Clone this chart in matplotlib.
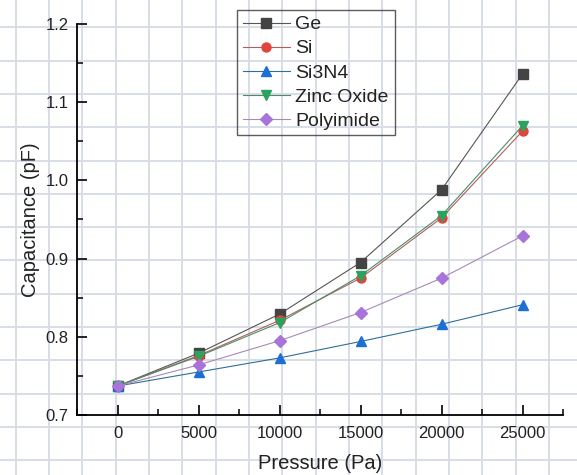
import numpy as np
import matplotlib
matplotlib.use("Agg")
import matplotlib.pyplot as plt
from matplotlib.ticker import MultipleLocator, FormatStrFormatter

plt.rcParams['font.family'] = ['Liberation Sans', 'DejaVu Sans']

pressure = [0, 5000, 10000, 15000, 20000, 25000]
ge = [0.737, 0.779, 0.829, 0.895, 0.988, 1.136]
si = [0.737, 0.776, 0.821, 0.875, 0.952, 1.063]
si3n4 = [0.737, 0.755, 0.773, 0.794, 0.816, 0.841]
zno = [0.737, 0.775, 0.818, 0.878, 0.955, 1.070]
polyimide = [0.737, 0.764, 0.795, 0.831, 0.875, 0.929]

labels = ["Ge", "Si", "Si3N4", "Zinc Oxide", "Polyimide"]
series = [ge, si, si3n4, zno, polyimide]
marker_colors = ["#444444", "#e0453b", "#1d6fd4", "#2ba35f", "#a874d9"]
line_colors = ["#555555", "#b0605a", "#2e6f9a", "#4e8a6a", "#a88ab8"]
markers = ["s", "o", "^", "v", "D"]
msizes = [6.5, 6.5, 7.5, 7.5, 6.5]

W, H = 577, 475
fig = plt.figure(figsize=(W / 100, H / 100), dpi=100)
fig.patch.set_facecolor("white")

# background graph-paper grid
bg = fig.add_axes([0, 0, 1, 1], zorder=-5)
bg.set_xlim(0, W)
bg.set_ylim(0, H)
bg.set_xticks(np.arange(15.6, W, 33.33))
bg.set_yticks(np.arange(14.8, H, 33.3))
bg.grid(True, color="#d6dbe4", linewidth=1.3)
bg.tick_params(length=0, labelbottom=False, labelleft=False)
for s in bg.spines.values():
    s.set_visible(False)
bg.set_facecolor("white")

ax = fig.add_axes([77 / W, 1 - 415 / H, (563 - 77) / W, (415 - 24) / H], zorder=1)
ax.set_facecolor("none")

for y, lab, mc, lc, mk, ms in zip(series, labels, marker_colors, line_colors, markers, msizes):
    ax.plot(pressure, y, color=lc, linewidth=0.8, marker=mk, markersize=ms,
            markerfacecolor=mc, markeredgecolor=mc, label=lab)

ax.set_xlim(-2500, 27500)
ax.set_ylim(0.7, 1.2)
ax.xaxis.set_major_locator(MultipleLocator(5000))
ax.xaxis.set_minor_locator(MultipleLocator(2500))
ax.yaxis.set_major_locator(MultipleLocator(0.1))
ax.yaxis.set_minor_locator(MultipleLocator(0.05))
ax.yaxis.set_major_formatter(FormatStrFormatter("%.1f"))

for side in ["top", "right"]:
    ax.spines[side].set_visible(False)
for side in ["left", "bottom"]:
    ax.spines[side].set_linewidth(1.3)
    ax.spines[side].set_color("black")

ax.tick_params(which="major", direction="in", length=7, width=1.2, labelsize=12,
               colors="black")
ax.tick_params(axis="x", which="major", pad=8)
ax.tick_params(axis="y", which="major", pad=6)
ax.tick_params(which="minor", direction="in", length=4, width=1.1)
for t in ax.get_xticklabels() + ax.get_yticklabels():
    t.set_color("#222222")

ax.set_xlabel("Pressure (Pa)", fontsize=14.5, color="#222222", labelpad=9)
ax.set_ylabel("Capacitance (pF)", fontsize=14.5, color="#222222", labelpad=4)

leg = ax.legend(loc="upper left", bbox_to_anchor=(237 / W, 1 - 10 / H),
                bbox_transform=fig.transFigure, borderaxespad=0,
                fontsize=14, frameon=True, fancybox=False, edgecolor="#333333",
                handlelength=2.4, handletextpad=0.3, labelspacing=0.33,
                borderpad=0.3)
leg.get_frame().set_facecolor("none")
leg.get_frame().set_linewidth(1.0)
for t in leg.get_texts():
    t.set_color("#222222")

fig.savefig("out.png", dpi=100)
